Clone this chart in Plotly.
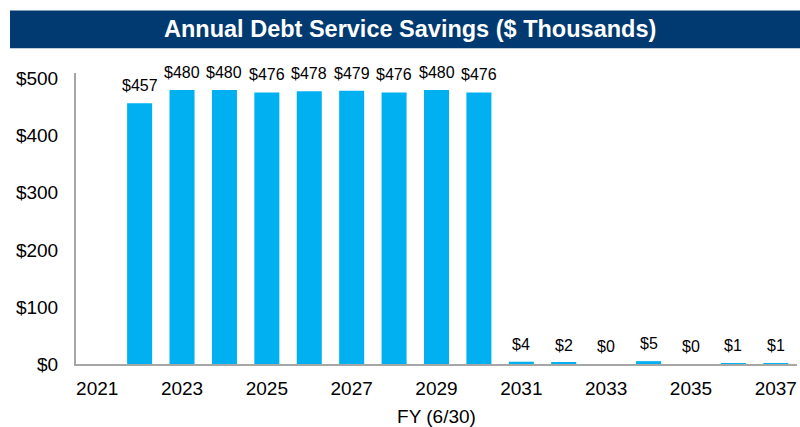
import plotly.graph_objects as go

years = list(range(2021, 2038))
savings = [None, 457, 480, 480, 476, 478, 479, 476, 480, 476, 4, 2, 0, 5, 0, 1, 1]
labels = ["", "$457", "$480", "$480", "$476", "$478", "$479", "$476", "$480", "$476",
          "$4", "$2", "$0", "$5", "$0", "$1", "$1"]
y_ticks = [0, 100, 200, 300, 400, 500]
y_ticktext = ["$0", "$100", "$200", "$300", "$400", "$500"]
x_ticks = [2021, 2023, 2025, 2027, 2029, 2031, 2033, 2035, 2037]

W, H = 800, 427
L, R, T, B = 76, 3, 73, 61
PW, PH = W - L - R, H - T - B


def px_x(x):
    return (x - L) / PW


def px_y(y):
    return (H - B - y) / PH


FONT = "Liberation Sans, Arial"

fig = go.Figure()
fig.add_trace(go.Bar(
    x=years, y=savings,
    marker=dict(color="#00B0F0", line=dict(width=0)),
    hoverinfo="x+y",
))

annotations = [dict(text="<b>Annual Debt Service Savings ($ Thousands)</b>",
                    xref="paper", yref="paper",
                    x=px_x(410), y=px_y(29),
                    showarrow=False, xanchor="center", yanchor="middle",
                    font=dict(size=23.5, color="white", family=FONT))]
for yr, v, t in zip(years, savings, labels):
    if v is None or not t:
        continue
    annotations.append(dict(x=yr, y=v, text=t, xref="x", yref="y",
                            showarrow=False, xanchor="center", yanchor="bottom",
                            yshift=7, font=dict(size=16, color="#000000", family=FONT)))

fig.update_layout(
    width=W, height=H,
    margin=dict(l=L, r=R, t=T, b=B),
    plot_bgcolor="white", paper_bgcolor="white",
    bargap=0.41, showlegend=False,
    font=dict(family=FONT, color="#000000"),
    xaxis=dict(
        range=[2020.5, 2037.5], tickvals=x_ticks, ticktext=[str(v) for v in x_ticks],
        tickfont=dict(size=19), showline=True, linecolor="#A6A6A6", linewidth=2,
        showgrid=False, zeroline=False, ticks="", ticklabelstandoff=6,
        title=dict(text="FY (6/30)", font=dict(size=19), standoff=12),
    ),
    yaxis=dict(
        range=[0, 510], tickvals=y_ticks, ticktext=y_ticktext,
        tickfont=dict(size=19), showline=True, linecolor="#A6A6A6", linewidth=2,
        showgrid=False, zeroline=False, ticks="", ticklabelstandoff=12,
    ),
    shapes=[dict(type="rect", xref="paper", yref="paper",
                 x0=px_x(10), x1=px_x(800), y0=px_y(48), y1=px_y(10),
                 fillcolor="#003A70", line=dict(width=0), layer="above")],
    annotations=annotations,
)

fig.write_html(
    "out.html",
    config={"displayModeBar": False},
    post_script="document.body.style.margin='0';document.body.style.overflow='hidden';",
)
